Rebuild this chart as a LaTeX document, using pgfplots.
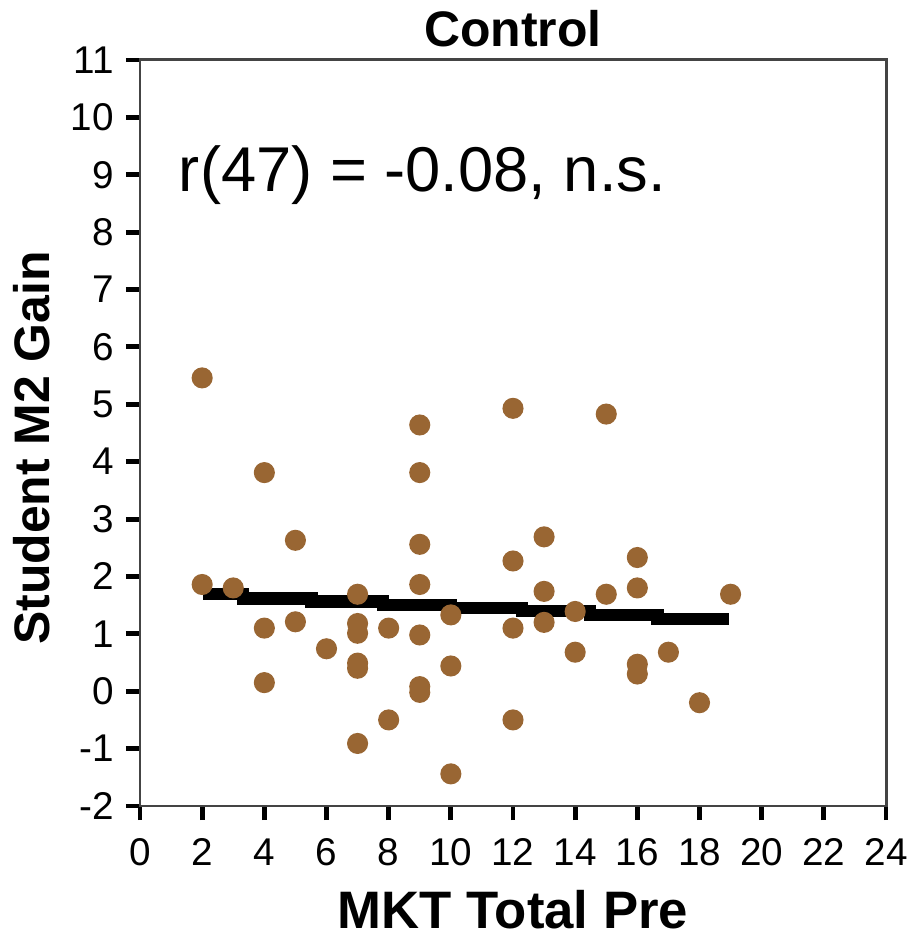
\documentclass[border=0pt]{standalone}
\usepackage{fontspec}
\setmainfont{Liberation Sans}
\usepackage{pgfplots}
\pgfplotsset{compat=1.18}
\definecolor{dotc}{HTML}{996633}
\definecolor{framec}{HTML}{444444}
\begin{document}
\begin{tikzpicture}
\path[use as bounding box] (-14mm,-13mm) rectangle (76.9mm,80.6mm);
\begin{axis}[
  name=ax,
  at={(0,0)}, anchor=south west,
  width=74.6mm, height=74.6mm, scale only axis,
  xmin=0, xmax=24, ymin=-2, ymax=11,
  xtick={0,2,...,24}, ytick={-2,-1,...,11},
  tick align=outside, xtick pos=left, ytick pos=left,
  major tick length=1.4mm,
  every tick/.style={black, line width=1.4pt},
  axis line style={framec, line width=0.85pt},
  ticklabel style={font=\fontsize{11}{13}\selectfont},
  xticklabel style={yshift=-0.6mm},
  /pgf/number format/assume math mode=true,
  xlabel={MKT Total Pre},
  xlabel style={at={(axis description cs:0.5,-0.139)}, anchor=center, font=\fontsize{15}{17}\selectfont\bfseries},
  ylabel={Student M2 Gain},
  ylabel style={at={(axis description cs:-0.145,0.48)}, anchor=center, rotate=0, font=\fontsize{14.2}{16}\selectfont\bfseries},
]
\addplot[const plot, black, line width=3.5pt] coordinates {
(2.03,1.690) (3.32,1.618) (5.52,1.563) (7.81,1.502) (10.0,1.450) (12.29,1.392) (14.48,1.328) (16.65,1.263) (18.94,1.263)
};
\addplot[only marks, mark=*, mark size=2.8pt, color=dotc] table {
x y
2 5.46
2 1.86
3 1.80
4 3.81
4 1.10
4 0.15
5 2.63
5 1.21
6 0.74
7 1.69
7 1.18
7 1.01
7 0.49
7 0.40
7 -0.91
8 1.10
8 -0.50
9 4.64
9 3.81
9 2.56
9 1.86
9 0.98
9 0.08
9 -0.02
10 1.33
10 0.44
10 -1.44
12 4.93
12 2.27
12 1.10
12 -0.50
13 2.69
13 1.74
13 1.20
14 1.39
14 0.68
15 4.83
15 1.69
16 2.33
16 1.80
16 0.47
16 0.30
17 0.68
18 -0.20
19 1.69
};
\node[anchor=base west, inner sep=0pt, font=\fontsize{18}{20}\selectfont] at (axis cs:1.23,8.70) {r(47) = -0.08, n.s.};
\end{axis}
\node[anchor=base, inner sep=0pt, font=\fontsize{14.2}{16}\selectfont\bfseries] at ([yshift=1.3mm]ax.north) {Control};
\end{tikzpicture}
\end{document}
